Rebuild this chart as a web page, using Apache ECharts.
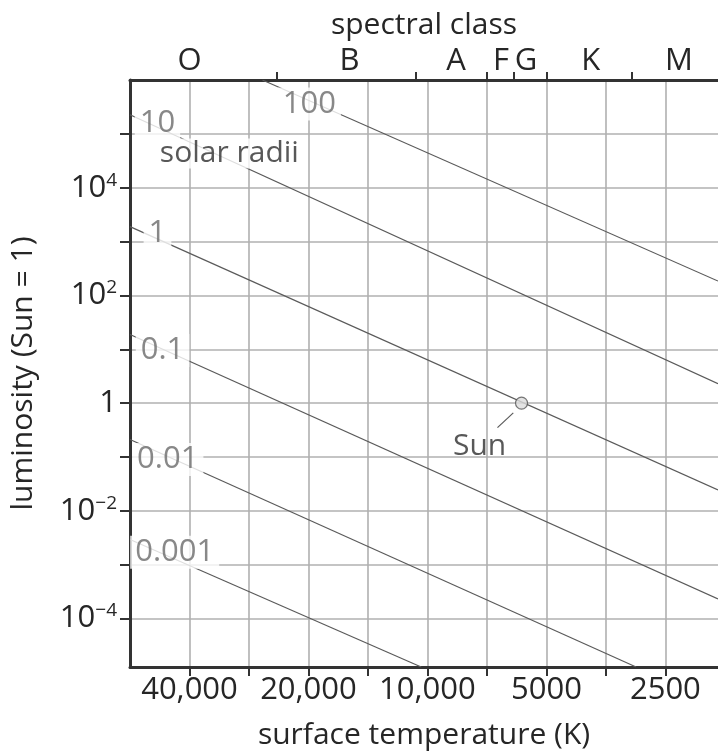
<!DOCTYPE html>
<html>
<head>
<meta charset="utf-8">
<script src="https://cdn.jsdelivr.net/npm/echarts@6/dist/echarts.min.js"></script>
<style>
  html, body { margin: 0; background: #fff; }
  #chart { width: 718px; height: 755px; }
</style>
</head>
<body>
<div id="chart"></div>
<script>
// values: temperatures in K, luminosities with Sun = 1
const tempTicks = [40000, 20000, 10000, 5000, 2500]
const tempTickLabels = ['40,000', '20,000', '10,000', '5000', '2500']
const tempRange = [56570, 1840]
const lumTicks = [1e4, 1e2, 1, 1e-2, 1e-4]
const lumRange = [1.26e-5, 1e6]

const spectralClasses = ['O', 'B', 'A', 'F', 'G', 'K', 'M']
const spectralCentres = [40000, 15750, 8460, 6510, 5630, 3860, 2310]
const spectralBounds = [24000, 10700, 7070, 6050, 5000, 3050]

// lines of constant radius, each as [T, L] at its two ends
const radii = ['100', '10', '1', '0.1', '0.01', '0.001']
const radiusLines = [
  [[26150, 1e6], [1840, 185]],
  [[56570, 2.26e5], [1840, 2.29]],
  [[56570, 1896], [1840, 0.0244]],
  [[56570, 18.8], [1840, 2.32e-4]],
  [[56570, 0.211], [2965, 1.26e-5]],
  [[56570, 0.00294], [10370, 1.26e-5]]
]
const radiusLabelAt = [[19900, 3.6e5], [48200, 1.6e5], [48200, 1460], [46800, 9.5], [45400, 0.09], [43600, 0.0017]]
const unitLabel = 'solar radii'
const unitLabelAt = [31700, 4.3e4]

const sun = [5780, 1]
const sunLabelAt = [7380, 0.16]
const sunLeader = [[6650, 0.35], [6064, 0.66]]

// temperature runs on half-octave steps from 40,000 K, luminosity on decades
const tx = (t) => 2 * Math.log2(40000 / t)
const ly = (l) => Math.log10(l)
const pt = (p) => [tx(p[0]), ly(p[1])]
const near = (arr, v) => arr.findIndex(a => Math.abs(a - v) < 1e-6)

const FONT = '"Open Sans", "Noto Sans", sans-serif'
const INK = '#262626'

const xMin = Math.round(tx(tempRange[0]))
const xMax = tx(tempRange[1])
const yMin = ly(lumRange[0])
const yMax = ly(lumRange[1])

const xTickVals = []
for (let v = 0; v <= xMax; v++) xTickVals.push(v)
const yTickVals = []
for (let v = Math.ceil(yMin); v < yMax; v++) yTickVals.push(v)

const tempLabelVals = tempTicks.map(tx)
const lumLabelVals = lumTicks.map(ly)
const classVals = spectralCentres.map(tx)

function lumLabel(v) {
  const e = Math.round(v)
  if (e === 0) return '{b|1}'
  return '{b|10}{s|' + String(e).replace('-', '\u2212') + '}'
}

const myChart = echarts.init(document.getElementById('chart'))

const lineSeries = radiusLines.map((ends, i) => ({
  name: radii[i],
  type: 'line',
  data: ends.map(pt),
  symbol: 'none',
  silent: true,
  z: 2,
  lineStyle: { color: '#5a5a5a', width: 1.2 }
}))

const option = {
  animation: false,
  backgroundColor: '#fff',
  textStyle: { fontFamily: FONT },
  grid: { left: 130, top: 80, width: 588, height: 591.5 },
  xAxis: [
    {
      type: 'value',
      min: xMin,
      max: xMax,
      interval: 1,
      name: 'surface temperature (K)',
      nameLocation: 'middle',
      nameGap: 53,
      nameTextStyle: { fontSize: 30, color: INK, fontFamily: FONT },
      axisLine: { show: true, onZero: false, lineStyle: { color: '#333', width: 3 } },
      axisTick: { show: true, customValues: xTickVals, length: 9, lineStyle: { color: '#333', width: 2 } },
      axisLabel: {
        customValues: tempLabelVals,
        margin: 8,
        fontSize: 31,
        color: INK,
        fontFamily: FONT,
        formatter: (v) => tempTickLabels[near(tempLabelVals, v)] || ''
      },
      splitLine: { show: true, lineStyle: { color: '#b0b0b0', width: 1.6 } }
    },
    {
      type: 'value',
      position: 'top',
      min: xMin,
      max: xMax,
      name: 'spectral class',
      nameLocation: 'middle',
      nameGap: 40,
      nameTextStyle: { fontSize: 30, color: INK, fontFamily: FONT },
      axisLine: { show: true, onZero: false, lineStyle: { color: '#333', width: 3 } },
      axisTick: { show: true, customValues: spectralBounds.map(tx), length: 8, lineStyle: { color: '#333', width: 2 } },
      axisLabel: {
        customValues: classVals,
        margin: 3,
        fontSize: 31,
        color: INK,
        fontFamily: FONT,
        formatter: (v) => spectralClasses[near(classVals, v)] || ''
      },
      splitLine: { show: false }
    }
  ],
  yAxis: {
    type: 'value',
    min: yMin,
    max: yMax,
    interval: 1,
    name: 'luminosity (Sun = 1)',
    nameLocation: 'middle',
    nameGap: 92,
    nameTextStyle: { fontSize: 30, color: INK, fontFamily: FONT },
    axisLine: { show: true, onZero: false, lineStyle: { color: '#333', width: 3 } },
    axisTick: { show: true, customValues: yTickVals, length: 10, lineStyle: { color: '#333', width: 2 } },
    axisLabel: {
      customValues: lumLabelVals,
      margin: 13,
      color: INK,
      formatter: lumLabel,
      rich: {
        b: { fontSize: 31, lineHeight: 34, color: INK, fontFamily: FONT },
        s: { fontSize: 19, lineHeight: 34, color: INK, fontFamily: FONT, verticalAlign: 'top', padding: [0, 0, 14, 0] }
      }
    },
    splitLine: { show: true, lineStyle: { color: '#b0b0b0', width: 1.6 } }
  },
  series: [
    ...lineSeries,
    {
      name: 'sun leader',
      type: 'line',
      data: sunLeader.map(pt),
      symbol: 'none',
      silent: true,
      z: 2,
      lineStyle: { color: '#5a5a5a', width: 1.2 }
    },
    {
      name: 'radius labels',
      type: 'scatter',
      symbolSize: 0,
      silent: true,
      z: 5,
      data: radiusLabelAt.map((p, i) => ({ value: pt(p), name: radii[i] })),
      label: {
        show: true,
        position: 'inside',
        formatter: (p) => p.name,
        fontSize: 31,
        color: '#6a6a6a',
        fontFamily: FONT,
        backgroundColor: '#fff',
        padding: [2, 5, 0, 5]
      }
    },
    {
      name: 'unit label',
      type: 'scatter',
      symbolSize: 0,
      silent: true,
      z: 5,
      data: [{ value: pt(unitLabelAt), name: unitLabel }],
      label: {
        show: true,
        position: 'inside',
        formatter: (p) => p.name,
        fontSize: 30,
        color: '#2e2e2e',
        fontFamily: FONT,
        backgroundColor: '#fff',
        padding: [0, 3]
      }
    },
    {
      name: 'Sun',
      type: 'scatter',
      symbol: 'circle',
      symbolSize: 12,
      silent: true,
      z: 6,
      itemStyle: { color: '#dcdcdc', borderColor: '#555', borderWidth: 1.2 },
      data: [pt(sun)]
    },
    {
      name: 'sun label',
      type: 'scatter',
      symbolSize: 0,
      silent: true,
      z: 5,
      data: [{ value: pt(sunLabelAt), name: 'Sun' }],
      label: {
        show: true,
        position: 'inside',
        formatter: (p) => p.name,
        fontSize: 30,
        color: '#2e2e2e',
        fontFamily: FONT
      }
    }
  ]
}

myChart.setOption(option)
</script>
</body>
</html>
